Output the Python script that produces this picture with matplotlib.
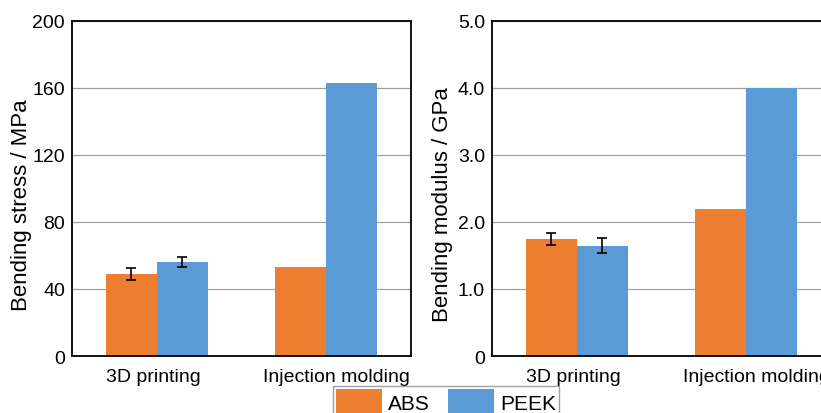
import matplotlib
matplotlib.use("Agg")
import matplotlib.pyplot as plt
import matplotlib.transforms as mtransforms
import numpy as np
from matplotlib.patches import Patch

plt.rcParams['font.family'] = ['Liberation Sans', 'DejaVu Sans']

categories = ["3D printing", "Injection molding"]
series = ["ABS", "PEEK"]
stress_abs = [48.8, 53.3]
stress_abs_err = [3.6, 0]
stress_peek = [56.3, 162.7]
stress_peek_err = [3.0, 0]
modulus_abs = [1.745, 2.20]
modulus_abs_err = [0.085, 0]
modulus_peek = [1.645, 4.0]
modulus_peek_err = [0.115, 0]
stress_ticks = [0, 40, 80, 120, 160, 200]
stress_ticklabels = ["0", "40", "80", "120", "160", "200"]
modulus_ticks = [0, 1, 2, 3, 4, 5]
modulus_ticklabels = ["0", "1.0", "2.0", "3.0", "4.0", "5.0"]

c_abs = "#ED7D31"
c_peek = "#5B9BD5"

W, H = 821, 414
fig = plt.figure(figsize=(W / 100, H / 100), dpi=100)
label_shift_px = [-3, 10]

def make_ax(left_px, vals_a, err_a, vals_b, err_b, ticks, ticklabels, ylabel, ylim, ylab_x):
    ax = fig.add_axes([left_px / W, 1 - 357 / H, 339 / W, (357 - 22) / H])
    x = np.arange(len(categories))
    w = 0.30
    ek = dict(ecolor="black", capsize=3.5, elinewidth=1.2, capthick=1.2)
    ea = [e if e > 0 else np.nan for e in err_a]
    eb = [e if e > 0 else np.nan for e in err_b]
    ax.bar(x - w / 2, vals_a, w, color=c_abs, zorder=2)
    ax.bar(x + w / 2, vals_b, w, color=c_peek, zorder=2)
    ax.errorbar(x - w / 2, vals_a, yerr=ea, fmt="none", zorder=3, **ek)
    ax.errorbar(x + w / 2, vals_b, yerr=eb, fmt="none", zorder=3, **ek)
    ax.set_xlim(-0.5, 1.5)
    ax.set_ylim(*ylim)
    ax.set_yticks(ticks)
    ax.set_yticklabels(ticklabels)
    ax.set_xticks(x)
    ax.set_xticklabels(categories)
    ax.tick_params(axis="y", length=0, labelsize=14, pad=5)
    ax.tick_params(axis="x", length=0, labelsize=14, pad=9)
    for lbl, dx in zip(ax.get_xticklabels(), label_shift_px):
        lbl.set_transform(lbl.get_transform() +
                          mtransforms.ScaledTranslation(dx / 100, 0, fig.dpi_scale_trans))
    ax.yaxis.grid(True, color="#a0a0a8", linewidth=0.9, zorder=0)
    ax.set_axisbelow(True)
    for s in ax.spines.values():
        s.set_linewidth(1.3)
        s.set_color("black")
    ax.set_ylabel(ylabel, fontsize=16)
    ax.yaxis.set_label_coords((ylab_x - left_px) / 339, 0.454)
    return ax

make_ax(72, stress_abs, stress_abs_err, stress_peek, stress_peek_err,
        stress_ticks, stress_ticklabels, "Bending stress / MPa", (0, 200), 32)
make_ax(492, modulus_abs, modulus_abs_err, modulus_peek, modulus_peek_err,
        modulus_ticks, modulus_ticklabels, "Bending modulus / GPa", (0, 5), 453)

handles = [Patch(facecolor=c_abs), Patch(facecolor=c_peek)]
fig.legend(handles, series, loc="upper left",
           bbox_to_anchor=(333 / W, 1 - 387 / H), ncol=2, fontsize=15,
           frameon=True, fancybox=False, edgecolor="#888888",
           handlelength=2.2, handleheight=1.5, handletextpad=0.3,
           columnspacing=0.85, borderpad=0.15, borderaxespad=0)

fig.savefig("out.png", dpi=100)
